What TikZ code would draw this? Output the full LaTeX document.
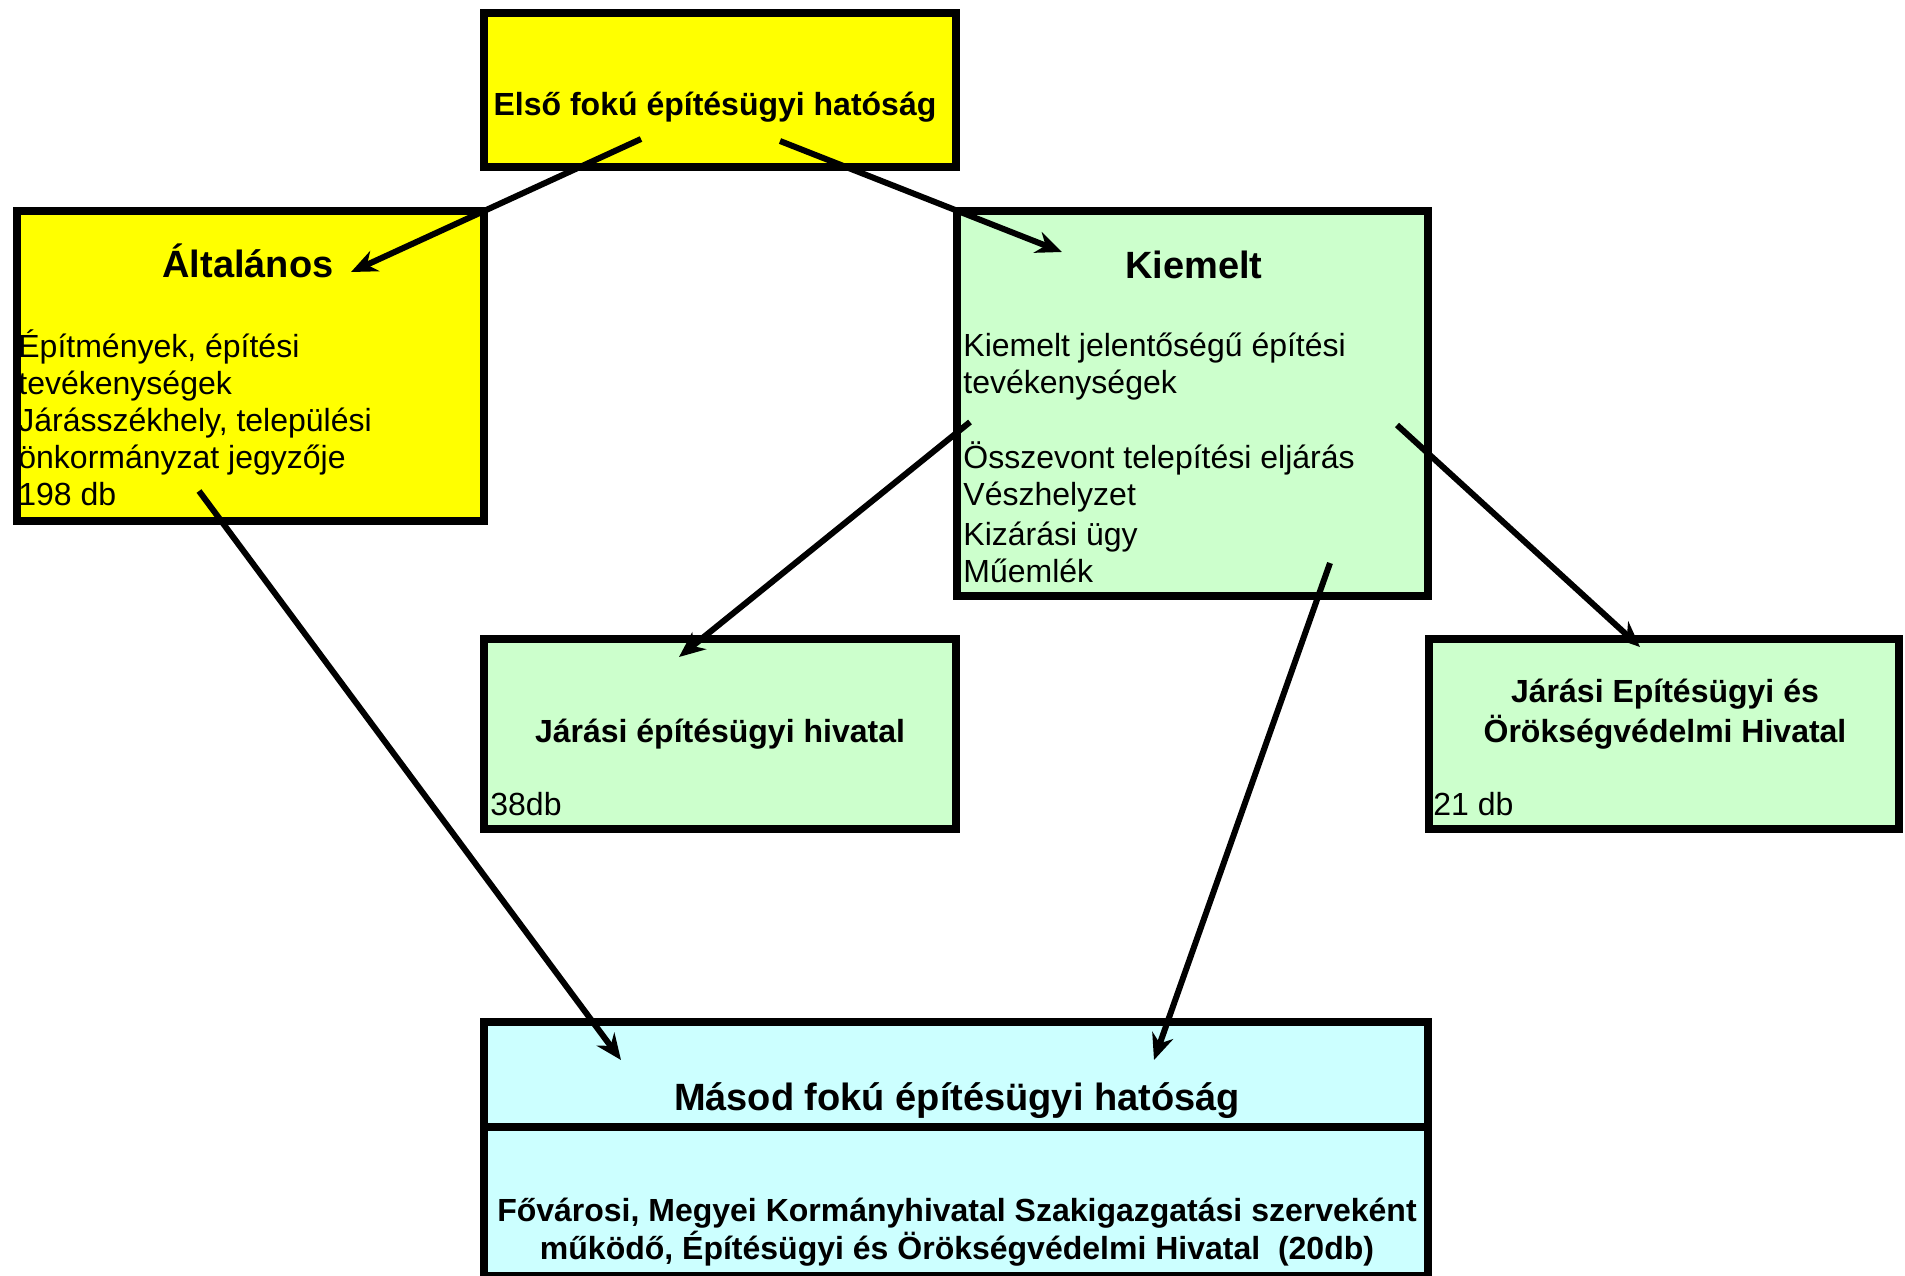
\documentclass[tikz,border=0pt]{standalone}
\usepackage{fontspec}
\setmainfont{Liberation Sans}
\usetikzlibrary{positioning, arrows.meta}

\definecolor{sarga}{HTML}{FFFF00}
\definecolor{zold}{HTML}{CCFFCC}
\definecolor{kek}{HTML}{CCFFFF}

\tikzset{
    doboz/.style={draw=black, line width=4pt, inner sep=0pt, outer sep=0pt},
    cim/.style={font=\fontsize{16}{20}\selectfont\bfseries, inner sep=0pt},
    nagycim/.style={font=\fontsize{19}{22}\selectfont\bfseries, inner sep=0pt},
    szoveg/.style={font=\fontsize{16}{18.4}\selectfont, inner sep=0pt, align=left},
    nyil/.style={line width=3pt, -{Stealth[length=13pt, width=11pt]}}
}

\begin{document}
\begin{tikzpicture}[x=0.5pt, y=-0.5pt]
        \useasboundingbox (0,0) rectangle (1905,1275);
        % dobozok
        \node[doboz, fill=sarga, minimum width=236pt, minimum height=77pt] (elso) at (720,90) {};
        \node[doboz, fill=sarga, minimum width=233.5pt, minimum height=155pt] (alt) at (250.5,366) {};
        \node[doboz, fill=zold, minimum width=235.5pt, minimum height=192.5pt] (kiem) at (1192.5,403.5) {};
        \node[doboz, fill=zold, minimum width=236pt, minimum height=95pt] (jhiv) at (720,734) {};
        \node[doboz, fill=zold, minimum width=235pt, minimum height=95pt] (jeoh) at (1664,734) {};
        \node[doboz, fill=kek, minimum width=472pt, minimum height=52.5pt] (masodfej) at (956,1074.5) {};
        \node[doboz, fill=kek, minimum width=472pt, minimum height=74.5pt] (masodtest) at (956,1201.5) {};

        % szovegek (a base az utolso sor alapvonala)
        \node[cim, anchor=base] (elsoc) at (715,115) {Első fokú építésügyi hatóság};
        \node[nagycim, anchor=base] (altc) at (248,277) {Általános};
        \node[szoveg, anchor=base west] (altsz) at (18,505) {Építmények, építési\\tevékenységek\\Járásszékhely, települési\\önkormányzat jegyzője\\198 db};
        \node[nagycim, anchor=base] (kiemc) at (1194,278) {Kiemelt};
        \node[szoveg, anchor=base west] (kiemsz1) at (963,393) {Kiemelt jelentőségű építési\\tevékenységek};
        \node[szoveg, anchor=base west] (kiemsz2) at (963,505) {Összevont telepítési eljárás\\Vészhelyzet};
        \node[szoveg, anchor=base west] (kiemsz3) at (963,582) {Kizárási ügy\\Műemlék};
        \node[cim, anchor=base] (jhivc) at (720,742) {Járási építésügyi hivatal};
        \node[szoveg, anchor=base west] (jhivdb) at (490,815) {38db};
        \node[cim, anchor=base, align=center] (jeohc) at (1665,742) {Járási Epítésügyi és\\Örökségvédelmi Hivatal};
        \node[szoveg, anchor=base west] (jeohdb) at (1433,815) {21 db};
        \node[nagycim, anchor=base] (masodc) at (957,1110) {Másod fokú építésügyi hatóság};
        \node[cim, anchor=base, align=center, font=\fontsize{16}{19}\selectfont\bfseries] (masodsz) at (957,1259) {Fővárosi, Megyei Kormányhivatal Szakigazgatási szerveként\\működő, Építésügyi és Örökségvédelmi Hivatal~~(20db)};

        % nyilak
        \coordinate (P1) at (641,139);
        \coordinate (P2) at (351,272);
        \coordinate (P3) at (780,141);
        \coordinate (P4) at (1062,252);
        \coordinate (P5) at (970,422);
        \coordinate (P6) at (679,657);
        \coordinate (P7) at (1397,425);
        \coordinate (P8) at (1640,647);
        \coordinate (P9) at (199,491);
        \coordinate (P10) at (621,1060);
        \coordinate (P11) at (1330,563);
        \coordinate (P12) at (1154,1060);
        \foreach \a/\b in {1/2, 3/4, 5/6, 7/8, 9/10, 11/12}
        {
            \draw[nyil] (P\a) -- (P\b);
        }
    \end{tikzpicture}
\end{document}
